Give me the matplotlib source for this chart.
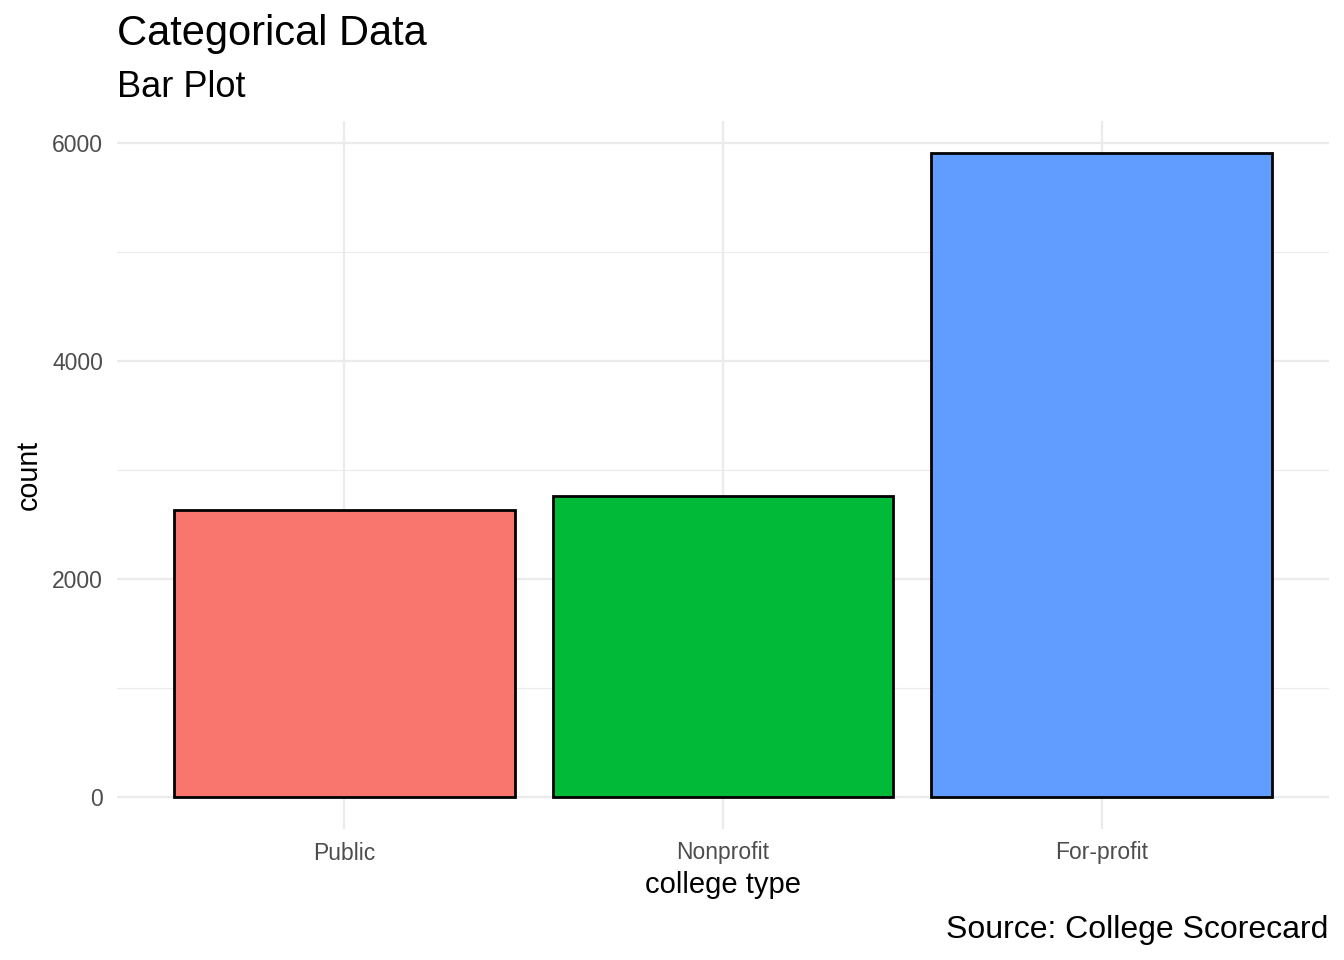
import matplotlib
matplotlib.use("Agg")
import matplotlib.pyplot as plt
from matplotlib.ticker import MultipleLocator

plt.rcParams['font.family'] = ['Liberation Sans', 'DejaVu Sans']

college_types = ["Public", "Nonprofit", "For-profit"]
counts = [2633, 2761, 5908]
bar_colors = ["#F8766D", "#00BA38", "#619CFF"]

W, H = 1344, 960
fig = plt.figure(figsize=(W / 100, H / 100), dpi=100)

# panel in pixel coords: x 117..1329, y 121..829
ax = fig.add_axes([117 / W, (H - 829) / H, 1212 / W, 708 / H])

x = list(range(len(college_types)))
ax.bar(x, counts, width=0.9, color=bar_colors, edgecolor="black", linewidth=2.0, zorder=3)

ax.set_xlim(-0.6, len(college_types) - 1 + 0.6)
top = max(counts)
ax.set_ylim(-0.05 * top, 1.05 * top)

ax.set_xticks(x)
ax.set_xticklabels(college_types)
ax.yaxis.set_major_locator(MultipleLocator(2000))
ax.yaxis.set_minor_locator(MultipleLocator(1000))

ax.grid(which="major", color="#EBEBEB", linewidth=1.6, zorder=0)
ax.grid(which="minor", axis="y", color="#EBEBEB", linewidth=0.8, zorder=0)
ax.set_axisbelow(True)

for s in ax.spines.values():
    s.set_visible(False)
ax.tick_params(which="both", length=0, labelsize=16.5, labelcolor="#4D4D4D")
ax.tick_params(axis="y", pad=10)
ax.tick_params(axis="x", pad=9)

ax.set_xlabel("college type", fontsize=21, labelpad=5)
ax.set_ylabel("count", fontsize=20.6, labelpad=7)

fig.text(117 / W, 1 - 45 / H, "Categorical Data", fontsize=30, ha="left", va="baseline")
fig.text(117 / W, 1 - 97 / H, "Bar Plot", fontsize=26, ha="left", va="baseline")
fig.text(1328 / W, 1 - 938 / H, "Source: College Scorecard", fontsize=23, ha="right", va="baseline")

fig.savefig("out.png", dpi=100)
